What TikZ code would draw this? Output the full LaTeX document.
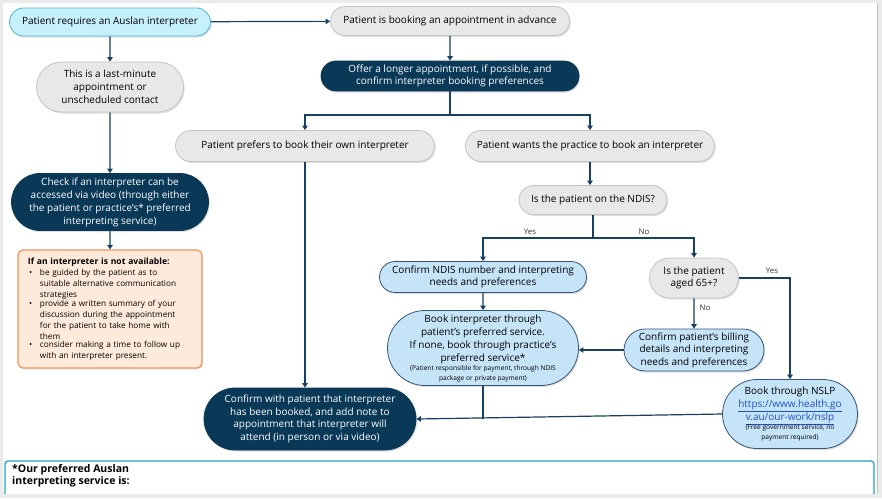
\documentclass[tikz,border=0pt]{standalone}
\usepackage{fontspec}
\setmainfont{Open Sans}
\usetikzlibrary{arrows.meta,shapes.misc,shadows,positioning}

\definecolor{navy}{RGB}{10,57,88}
\definecolor{linecol}{RGB}{24,64,96}
\definecolor{greyfill}{RGB}{232,232,232}
\definecolor{greyline}{RGB}{196,196,196}
\definecolor{cyanfill}{RGB}{198,240,252}
\definecolor{cyanline}{RGB}{80,185,215}
\definecolor{bluefill}{RGB}{197,228,248}
\definecolor{blueline}{RGB}{55,85,115}
\definecolor{peach}{RGB}{253,234,218}
\definecolor{orangeline}{RGB}{238,150,90}
\definecolor{footline}{RGB}{30,165,200}
\definecolor{urlblue}{RGB}{30,80,200}

\newcommand{\finetext}{\fontsize{6.6}{7}\selectfont}
\newcommand{\notebullet}[1]{\par\noindent\makebox[17pt][l]{\hspace{6pt}\textbullet}\parbox[t]{157pt}{#1}}

\tikzset{
  box/.style={rounded rectangle, align=center, inner xsep=4pt, inner ysep=1pt,
    line width=0.8pt, font=\fontsize{10}{13}\selectfont},
  greybox/.style={box, draw=greyline, fill=greyfill,
    drop shadow={shadow xshift=1.2pt, shadow yshift=-1.5pt, opacity=0.25}},
  cyanbox/.style={box, draw=cyanline, fill=cyanfill,
    drop shadow={shadow xshift=1.2pt, shadow yshift=-1.5pt, opacity=0.25}},
  bluebox/.style={box, draw=blueline, fill=bluefill,
    drop shadow={shadow xshift=1.2pt, shadow yshift=-1.5pt, opacity=0.25}},
  darkbox/.style={box, draw=navy, fill=navy, text=white,
    drop shadow={shadow xshift=1.2pt, shadow yshift=-1.5pt, opacity=0.25}},
  link/.style={draw=linecol, line width=1.2pt, -{Triangle[width=5.5pt,length=4.5pt]}},
  plain/.style={draw=linecol, line width=1.2pt},
  yesno/.style={font=\fontsize{7.8}{8}\selectfont, text=black!80, inner sep=0pt}
}

\begin{document}
\begin{tikzpicture}[x=1pt,y=-1pt]
  \useasboundingbox (0,0) rectangle (882,498);
  % page
  \fill[black!8] (0,0) rectangle (882,498);
  \fill[white] (3,3) rectangle (877,493);
  \draw[black!25, line width=1pt] (877,3) -- (877,493);

  % footer box
  \begin{scope}
    \clip (0,0) rectangle (882,493);
    \draw[footline, line width=1.2pt, rounded corners=3pt, fill=white] (5,461) rectangle (874,510);
  \end{scope}
  \node[anchor=north west, inner sep=0pt, align=left, font=\fontsize{10.5}{12}\selectfont\bfseries]
    (pref) at (12,464) {*Our preferred Auslan\\interpreting service is:};

  % left column
  \node[cyanbox, minimum width=209pt, minimum height=28pt] (req) at (110,22)
    {Patient requires an Auslan interpreter};
  \node[greybox, minimum width=155pt, minimum height=50pt] (last) at (110,87)
    {This is a last-minute\\appointment or\\unscheduled contact};
  \node[darkbox, minimum width=205pt, minimum height=57pt] (check) at (110,202)
    {Check if an interpreter can be\\accessed via video (through either\\the patient or practice’s* preferred\\interpreting service)};
  \node[draw=orangeline, fill=peach, line width=1.2pt, rounded corners=5pt,
    text width=174pt, inner xsep=5pt, minimum height=118pt, align=left,
    font=\fontsize{8.2}{11}\selectfont,
    drop shadow={shadow xshift=1.2pt, shadow yshift=-1.5pt, opacity=0.2}] (notavail) at (110,309)
    {\hspace*{5pt}{\fontsize{8.6}{11}\selectfont\textbf{If an interpreter is not available:}}
     \notebullet{be guided by the patient as to\\suitable alternative communication\\strategies}
     \notebullet{provide a written summary of your\\discussion during the appointment\\for the patient to take home with\\them}
     \notebullet{consider making a time to follow up\\with an interpreter present.}};

  % booking in advance
  \node[greybox, minimum width=247pt, minimum height=29pt] (adv) at (450,21)
    {Patient is booking an appointment in advance};
  \node[darkbox, minimum width=266pt, minimum height=30pt, font=\fontsize{10}{12}\selectfont] (offer) at (450,76)
    {Offer a longer appointment, if possible, and\\confirm interpreter booking preferences};
  \node[greybox, minimum width=267pt, minimum height=31pt] (own) at (305,146)
    {Patient prefers to book their own interpreter};
  \node[greybox, minimum width=257pt, minimum height=31pt] (wants) at (590,146)
    {Patient wants the practice to book an interpreter};
  \node[greybox, minimum width=156pt, minimum height=29pt] (ndis) at (593,200)
    {Is the patient on the NDIS?};
  \node[bluebox, minimum width=215pt, minimum height=31pt, font=\fontsize{10}{12.5}\selectfont] (confndis) at (483,277)
    {Confirm NDIS number and interpreting\\needs and preferences};
  \node[greybox, minimum width=97pt, minimum height=40pt, font=\fontsize{10}{12.5}\selectfont] (aged) at (694,278)
    {Is the patient\\aged 65+?};
  \node[bluebox, minimum width=199pt, minimum height=75pt] (book) at (483,348)
    {Book interpreter through\\patient’s preferred service.\\If none, book through practice’s\\preferred service*\\[-4pt]
     {\finetext (Patient responsible for payment, through NDIS}\\[-3pt]{\finetext package or private payment)}};
  \node[bluebox, minimum width=148pt, minimum height=42pt, font=\fontsize{10}{12.5}\selectfont] (billing) at (694,350)
    {Confirm patient’s billing\\details and interpreting\\needs and preferences};
  \node[darkbox, minimum width=220pt, minimum height=62pt, font=\fontsize{10}{12.7}\selectfont] (confirm) at (310,419)
    {Confirm with patient that interpreter\\has been booked, and add note to\\appointment that interpreter will\\attend (in person or via video)};
  \node[bluebox, minimum width=143pt, minimum height=69pt] (nslp) at (790,414)
    {Book through NSLP\\\textcolor{urlblue}{\underline{https://www.health.go}}\\\textcolor{urlblue}{\underline{v.au/our-work/nslp}}\\[-4pt]
     {\finetext (Free government service, no}\\[-3pt]{\finetext payment required)}};

  % connectors
  \coordinate (split1) at (450,115);
  \coordinate (split2) at (593,238);
  \draw[link] (req) -- (adv);
  \draw[link] (req) -- (last);
  \draw[link] (last) -- (check);
  \draw[link] (check) -- (notavail);
  \draw[link] (adv) -- (offer);
  \draw[plain] (offer) -- (split1);
  \draw[link] (split1) -| (own);
  \draw[link] (split1) -| (wants);
  \draw[link] (own.south) -- (own.south |- confirm.north);
  \draw[link] (wants.south) -- (wants.south |- ndis.north);
  \draw[plain] (ndis) -- (split2);
  \draw[link] (split2) -| (confndis);
  \draw[link] (split2) -| (aged);
  \draw[link] (confndis) -- (book);
  \draw[link] (aged) -- (billing);
  \draw[link] (aged.east) -| (nslp.north);
  \draw[link] (billing.west) -- (billing.west -| book.east);
  \draw[link] (nslp.west) -- (confirm.east);
  \draw[plain] (book.south) -- (book.south |- confirm.east);

  % labels
  \node[yesno] (yes1) at (530,232) {Yes};
  \node[yesno] (no1) at (644,232) {No};
  \node[yesno] (no2) at (705,308) {No};
  \node[yesno] (yes2) at (772,271) {Yes};
\end{tikzpicture}
\end{document}
